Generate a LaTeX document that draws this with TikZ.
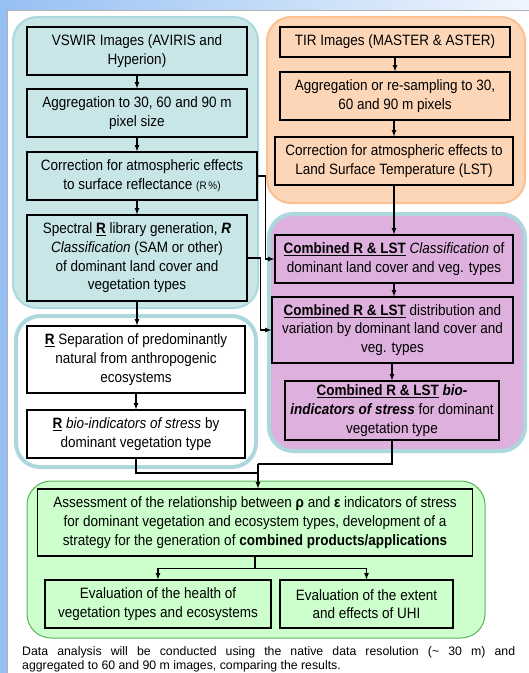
\documentclass[tikz,border=0pt]{standalone}
\usepackage{fontspec}
\setmainfont{Liberation Sans}[FakeStretch=0.9]
\newfontfamily\notefont{Liberation Sans}
\usepackage{xcolor}
\usetikzlibrary{arrows,positioning}
\definecolor{skyblue}{RGB}{150,192,243}
\definecolor{tealfill}{RGB}{200,230,232}
\definecolor{tealedge}{RGB}{172,216,221}
\definecolor{orangefill}{RGB}{253,214,184}
\definecolor{orangeedge}{RGB}{250,192,145}
\definecolor{purplefill}{RGB}{221,176,221}
\definecolor{greenfill}{RGB}{204,255,204}
\definecolor{greenedge}{RGB}{90,180,90}
\newcommand{\ulb}[1]{\underline{\textbf{#1}}}

\tikzset{
  stepbox/.style={draw=black, line width=1.2pt, align=center, inner sep=2pt,
    font=\fontsize{15}{18.7}\selectfont},
  panel/.style={rounded corners=24pt},
  flow/.style={->, >=latex, line width=1.2pt},
  link/.style={line width=1.2pt}
}

\begin{document}
\begin{tikzpicture}[x=1pt, y=-1pt]
    \useasboundingbox (0,0) rectangle (529,673);

    % Page background
    \fill[skyblue] (0,0) rectangle (529,673);
    \shade[left color=skyblue, right color=skyblue!15] (0,0) rectangle (529,10);
    \fill[white] (7,10) rectangle (529,673);
    \draw[gray!60, line width=1pt] (7,673) -- (7,10) -- (529,10);

    % Group panels
    \draw[panel, fill=tealfill, draw=tealedge, line width=2pt] (13,17) rectangle (258,308);
    \draw[panel, fill=orangefill, draw=orangeedge, line width=2pt] (267,17) rectangle (525,203);
    \draw[panel, fill=purplefill, draw=tealedge, line width=4pt] (269,214) rectangle (525,451);
    \draw[panel, fill=white, draw=tealedge, line width=4pt] (16,316) rectangle (256,467);
    \draw[panel, fill=greenfill, draw=greenedge, line width=1pt] (27,481) rectangle (485,638);

    % VSWIR column
    \node[stepbox, fill=tealfill, minimum width=220pt, minimum height=48pt] (vswir) at (137,51)
        {VSWIR Images (AVIRIS and\\Hyperion)};
    \node[stepbox, fill=tealfill, minimum width=220pt, minimum height=48pt] (aggv) at (137,113)
        {Aggregation to 30, 60 and 90 m\\pixel size};
    \node[stepbox, fill=tealfill, minimum width=230pt, minimum height=48pt] (corrv) at (142,176)
        {Correction for atmospheric effects\\to surface reflectance {\fontsize{11}{12}\selectfont(R\,\%)}};
    \node[stepbox, fill=tealfill, minimum width=220pt, minimum height=86pt] (spec) at (137,258)
        {Spectral \ulb{R} library generation, \textbf{\textit{R}}\\\textit{Classification} (SAM or other)\\of dominant land cover and\\vegetation types};

    % TIR column
    \node[stepbox, fill=orangefill, minimum width=230pt, minimum height=30pt] (tir) at (395,42)
        {TIR Images (MASTER \& ASTER)};
    \node[stepbox, fill=orangefill, minimum width=230pt, minimum height=48pt] (aggt) at (395,96)
        {Aggregation or re-sampling to 30,\\60 and 90 m pixels};
    \node[stepbox, fill=orangefill, minimum width=238pt, minimum height=48pt] (corrt) at (394,161)
        {Correction for atmospheric effects to\\Land Surface Temperature (LST)};

    % Combined products
    \node[stepbox, fill=purplefill, minimum width=238pt, minimum height=48pt] (ccls) at (394,259)
        {\ulb{Combined R \& LST} \textit{Classification} of\\dominant land cover and veg. types};
    \node[stepbox, fill=purplefill, minimum width=241pt, minimum height=66pt] (cdist) at (392.5,330)
        {\ulb{Combined R \& LST} distribution and\\variation by dominant land cover and\\veg. types};
    \node[stepbox, fill=purplefill, minimum width=214pt, minimum height=59pt] (cbio) at (392,410.5)
        {\ulb{Combined R \& LST} \textbf{\textit{bio-}}\\\textbf{\textit{indicators of stress}} for dominant\\vegetation type};

    % R-only products
    \node[stepbox, fill=white, minimum width=218pt, minimum height=67pt] (rsep) at (136,359.5)
        {\ulb{R} Separation of predominantly\\natural from anthropogenic\\ecosystems};
    \node[stepbox, fill=white, minimum width=218pt, minimum height=48pt] (rbio) at (136,434)
        {\ulb{R} \textit{bio-indicators of stress} by\\dominant vegetation type};

    % Assessment and evaluation
    \node[stepbox, fill=greenfill, minimum width=435pt, minimum height=67pt] (assess) at (255,522.5)
        {Assessment of the relationship between \textbf{ρ} and \textbf{ε} indicators of stress\\for dominant vegetation and ecosystem types, development of a\\strategy for the generation of \textbf{combined products/applications}};
    \node[stepbox, fill=greenfill, minimum width=226pt, minimum height=48pt] (health) at (158,604)
        {Evaluation of the health of\\vegetation types and ecosystems};
    \node[stepbox, fill=greenfill, minimum width=173pt, minimum height=48pt] (uhi) at (366.5,604)
        {Evaluation of the extent\\and effects of UHI};

    % Note
    \node[anchor=north west, align=left, inner sep=0pt, font=\notefont\fontsize{12.3}{14.5}\selectfont] (note) at (22,646)
        {\makebox[493pt][s]{Data analysis will be conducted using the native data resolution (\textasciitilde{} 30 m) and}\\aggregated to 60 and 90 m images, comparing the results.};

    % Arrows, VSWIR
    \draw[flow] (vswir) -- (aggv);
    \draw[flow] (aggv.south) -- (aggv.south |- corrv.north);
    \draw[flow] (spec.north |- corrv.south) -- (spec.north);
    \draw[flow] (spec.south) -- (spec.south |- rsep.north);
    \draw[flow] (rsep) -- (rbio);

    % Arrows, TIR
    \draw[flow] (tir.south) -- (tir.south |- aggt.north);
    \draw[flow] (corrt.north |- aggt.south) -- (corrt.north);
    \draw[flow] (corrt.south) -- (corrt.south |- ccls.north);
    \draw[flow] (ccls.south) -- (ccls.south |- cdist.north);
    \draw[flow] (cbio.north |- cdist.south) -- (cbio.north);

    % R into combined
    \draw[flow] (corrv.east) -- ++(8,0) |- (ccls.west);
    \draw[flow] (spec.east) -- ++(13,0) |- (cdist.west);

    % Merge into assessment
    \coordinate (merge) at (258,464);
    \coordinate (mergelow) at (258,473);
    \draw[link] (cbio.south) |- (merge);
    \draw[link] (rbio.south) |- (mergelow);
    \draw[flow] (merge) -- (merge |- assess.north);

    % Split to evaluations
    \draw[link] (assess.south) -- ++(0,12) coordinate (split);
    \draw[flow] (split) -| (health.north);
    \draw[flow] (split) -| (uhi.north);
\end{tikzpicture}
\end{document}
